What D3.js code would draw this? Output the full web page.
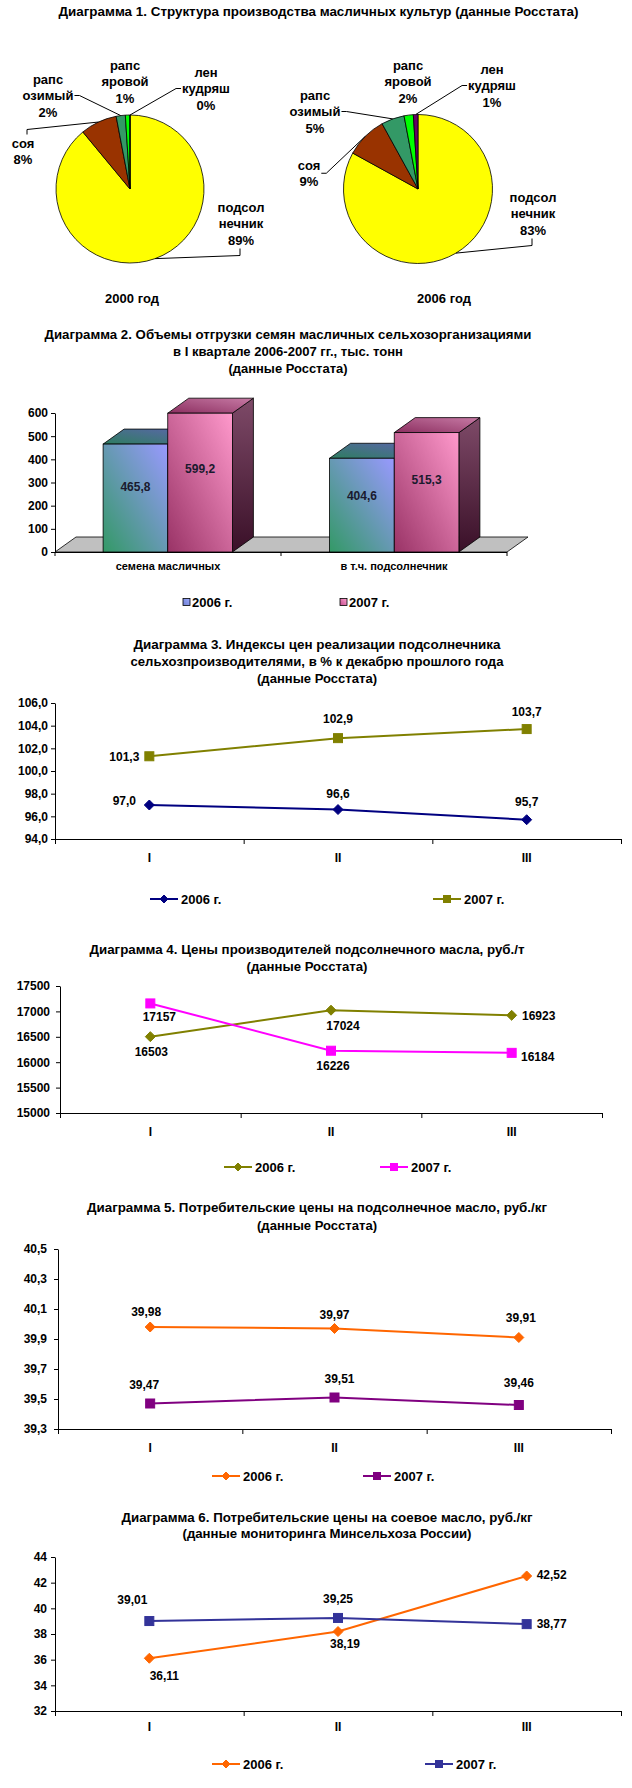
<!DOCTYPE html>
<html><head><meta charset="utf-8">
<script src="https://cdn.jsdelivr.net/npm/d3@7"></script>
<style>
body{margin:0;background:#fff}
svg{display:block}
text{font-family:"Liberation Sans",Arial,sans-serif;font-weight:bold;fill:#000}
</style>
</head><body>
<svg id="c" width="632" height="1788"></svg>
<script>
// ---------- DATA ----------
const titles = [
  ["Диаграмма 1. Структура производства масличных культур (данные Росстата)"],
  ["Диаграмма 2. Объемы отгрузки семян масличных сельхозорганизациями","в I квартале 2006-2007 гг., тыс. тонн","(данные Росстата)"],
  ["Диаграмма 3. Индексы цен реализации подсолнечника","сельхозпроизводителями, в % к декабрю прошлого года","(данные Росстата)"],
  ["Диаграмма 4. Цены производителей подсолнечного масла, руб./т","(данные Росстата)"],
  ["Диаграмма 5. Потребительские цены на подсолнечное масло, руб./кг","(данные Росстата)"],
  ["Диаграмма 6. Потребительские цены на соевое масло, руб./кг","(данные мониторинга Минсельхоза России)"]
];
const pieCategories = ["подсолнечник","соя","рапс озимый","рапс яровой","лен кудряш"];
const pieLabelLines = [["подсол","нечник"],["соя"],["рапс","озимый"],["рапс","яровой"],["лен","кудряш"]];
const pie2000 = [89, 8, 2, 1, 0];
const pie2006 = [83, 9, 5, 2, 1];
const pieYears = ["2000 год","2006 год"];

const seriesNames = ["2006 г.","2007 г."];
const barCategories = ["семена масличных","в т.ч. подсолнечник"];
const bar2006 = [465.8, 404.6];
const bar2007 = [599.2, 515.3];
const barTicks = [0,100,200,300,400,500,600];

const quarters = ["I","II","III"];
const c3_2006 = [97.0, 96.6, 95.7];
const c3_2007 = [101.3, 102.9, 103.7];
const c3Ticks = [94,96,98,100,102,104,106];
const c4_2006 = [16503, 17024, 16923];
const c4_2007 = [17157, 16226, 16184];
const c4Ticks = [15000,15500,16000,16500,17000,17500];
const c5_2006 = [39.98, 39.97, 39.91];
const c5_2007 = [39.47, 39.51, 39.46];
const c5Ticks = [39.3,39.5,39.7,39.9,40.1,40.3,40.5];
const c6_2006 = [36.11, 38.19, 42.52];
const c6_2007 = [39.01, 39.25, 38.77];
const c6Ticks = [32,34,36,38,40,42,44];

// ---------- STYLE / LAYOUT ----------
const pieColors = ["#FFFF00","#993300","#339966","#00FF00","#660066"];
const FONT = "Liberation Sans, Arial, sans-serif";
const titleLayout = [
  {cx:318.5, y:11, gap:17, w:[520]},
  {cx:288, y:334, gap:17, w:[487,230,119]},
  {cx:317, y:644, gap:17, w:[367,373,120]},
  {cx:307, y:949, gap:17, w:[435,121]},
  {cx:317, y:1207, gap:18, w:[460,120]},
  {cx:327, y:1517, gap:16.5, w:[411,289]}
];
const pieLayout = [
  {cx:130, cy:189, r:74, year:[2,109], labels:[[111,18,"b"],[-107,-46,"t"],[-82,-110,"r"],[-5,-124,null],[76,-117,"l"]]},
  {cx:418, cy:189, r:74.5, year:[26,109], labels:[[115,8,"b"],[-109,-24,"r"],[-103,-94,"r"],[-10,-124,null],[74,-120,"l"]]}
];

const svg = d3.select("#c");
svg.append("rect").attr("width",632).attr("height",1788).attr("fill","#fff");
const defs = svg.append("defs");
function grad(id, c0, c1, x1, y1, x2, y2){
  const g = defs.append("linearGradient").attr("id",id)
    .attr("x1",x1).attr("y1",y1).attr("x2",x2).attr("y2",y2);
  g.append("stop").attr("offset","0%").attr("stop-color",c0);
  g.append("stop").attr("offset","100%").attr("stop-color",c1);
}
grad("f06","#339966","#9999FF",0,1,1,0);
grad("f07","#993366","#FF99CC",0,1,1,0);
grad("t06","#2E7D60","#5B66AA",0,1,1,0);
grad("t07","#8C2F60","#C77AA5",0,1,1,0);
grad("s06","#3c4c80","#1c2850",0,0,0,1);
grad("s07","#7E4A68","#3A1028",0,0,0,1);
grad("l06","#6f7fd0","#9aa8ff",0,1,1,0);
grad("l07","#c04a8a","#ff9fd0",0,1,1,0);

// ---------- TITLES ----------
titles.forEach((lines, k) => {
  const lay = titleLayout[k];
  lines.forEach((t,i) => {
    svg.append("text").attr("x",lay.cx).attr("y",lay.y + i*lay.gap + 4.5)
      .attr("text-anchor","middle").attr("font-size",13)
      .attr("textLength",lay.w[i]).attr("lengthAdjust","spacingAndGlyphs")
      .text(t);
  });
});

// ---------- PIES ----------
function drawPie(values, lay, year){
  const arcs = d3.pie().sort(null).value(d=>d)(values);
  const arc = d3.arc().innerRadius(0).outerRadius(lay.r);
  const g = svg.append("g").attr("transform",`translate(${lay.cx},${lay.cy})`);
  g.selectAll("path.slice").data(arcs).join("path").attr("class","slice")
    .attr("d",arc).attr("fill",(d,i)=>pieColors[i])
    .attr("stroke","#000").attr("stroke-width",0.8);
  arcs.forEach((a,i) => {
    const [dx,dy,side] = lay.labels[i];
    const lines = pieLabelLines[i].concat([a.data + "%"]);
    const tg = g.append("g");
    lines.forEach((t,k) => {
      tg.append("text").attr("x",dx).attr("y",dy + k*16.5 + 4.5)
        .attr("text-anchor","middle").attr("font-size",13).text(t);
    });
    if(!side) return;
    const bb = tg.node().getBBox();
    const m = (a.startAngle + a.endAngle)/2;
    const pe = [lay.r*Math.sin(m), -lay.r*Math.cos(m)];
    let p0, p1;
    const cy = bb.y + bb.height/2;
    if(side==="r"){ p0=[bb.x+bb.width+1, cy]; p1=[p0[0]+5, cy]; }
    if(side==="l"){ p0=[bb.x-1, cy]; p1=[p0[0]-5, cy]; }
    if(side==="t"){ p0=[dx+4, bb.y-1]; p1=[p0[0], p0[1]-5]; }
    if(side==="b"){ p0=[dx-1, bb.y+bb.height+1]; p1=[p0[0], p0[1]+7]; }
    g.append("path").attr("d",d3.line()([p0,p1,pe]))
      .attr("fill","none").attr("stroke","#000").attr("stroke-width",1);
  });
  g.append("text").attr("x",lay.year[0]).attr("y",lay.year[1]+4.5)
    .attr("text-anchor","middle").attr("font-size",13).text(year);
}
drawPie(pie2000, pieLayout[0], pieYears[0]);
drawPie(pie2006, pieLayout[1], pieYears[1]);

// ---------- 3D BAR CHART ----------
(function(){
  const X0=55, X1=507, DX=21, DY=-15;
  const yB = d3.scaleLinear().domain([0,600]).range([552,413]);
  const xB = d3.scaleBand().domain(barCategories).range([X0,X1]).paddingInner(0.429).paddingOuter(0.2124);
  const xAx = d3.scaleBand().domain(barCategories).range([X0,X1]);
  const xS = d3.scaleBand().domain(seriesNames).range([0,xB.bandwidth()]);
  const y0 = yB(0);
  // floor
  svg.append("path").attr("d",d3.line()([[X0,y0],[X1,y0],[X1+DX,y0+DY],[X0+DX,y0+DY]])+"Z")
    .attr("fill","#C0C0C0").attr("stroke","#000").attr("stroke-width",0.8);
  // y axis
  const gy = svg.append("g").attr("transform",`translate(${X0},0)`)
    .call(d3.axisLeft(yB).tickValues(barTicks).tickSize(4).tickSizeOuter(0).tickPadding(3));
  gy.attr("font-family",FONT).attr("font-size",12).attr("font-weight","bold");
  // x axis
  svg.append("line").attr("x1",X0).attr("x2",X1).attr("y1",y0+0.5).attr("y2",y0+0.5).attr("stroke","#000");
  barCategories.concat([null]).forEach((c,i)=>{
    const xx = c ? xAx(c) : X1;
    svg.append("line").attr("x1",xx).attr("x2",xx).attr("y1",y0).attr("y2",y0+4).attr("stroke","#000");
  });
  barCategories.forEach(c=>{
    svg.append("text").attr("x",xAx(c)+xAx.bandwidth()/2).attr("y",566+4).attr("text-anchor","middle")
      .attr("font-size",11).text(c);
  });
  const vals = [bar2006, bar2007];
  const fills = [["f06","t06","s06"],["f07","t07","s07"]];
  barCategories.forEach((c,ci)=>{
    seriesNames.forEach((s,si)=>{
      const v = vals[si][ci];
      const x = xB(c)+xS(s), w = xS.bandwidth(), yt = yB(v);
      const g = svg.append("g");
      g.append("path").attr("d",d3.line()([[x+w,yt],[x+w+DX,yt+DY],[x+w+DX,y0+DY],[x+w,y0]])+"Z")
        .attr("fill",`url(#${fills[si][2]})`).attr("stroke","#000").attr("stroke-width",0.8);
      g.append("path").attr("d",d3.line()([[x,yt],[x+DX,yt+DY],[x+w+DX,yt+DY],[x+w,yt]])+"Z")
        .attr("fill",`url(#${fills[si][1]})`).attr("stroke","#000").attr("stroke-width",0.8);
      g.append("rect").attr("x",x).attr("y",yt).attr("width",w).attr("height",y0-yt)
        .attr("fill",`url(#${fills[si][0]})`).attr("stroke","#000").attr("stroke-width",0.8);
    });
  });
  barCategories.forEach((c,ci)=>{
    seriesNames.forEach((s,si)=>{
      const v = vals[si][ci];
      const x = xB(c)+xS(s), w = xS.bandwidth(), yt = yB(v);
      svg.append("text").attr("x",x+w/2).attr("y",yt+0.4*(y0-yt)+4).attr("text-anchor","middle")
        .attr("font-size",12).style("fill","#1a1a2e").text(String(v).replace(".",","));
    });
  });
  // legend
  const legX = [183, 340];
  seriesNames.forEach((s,si)=>{
    svg.append("rect").attr("x",legX[si]).attr("y",598.5).attr("width",7).attr("height",7)
      .attr("fill",`url(#l0${si?7:6})`).attr("stroke","#000").attr("stroke-width",0.8);
    svg.append("text").attr("x",legX[si]+9).attr("y",602+4.5).attr("font-size",13).text(s);
  });
})();

// ---------- LINE CHARTS ----------
function marker(g, type, color, size){
  if(type==="diamond"){
    g.append("path").attr("d",`M0,${-size}L${size},0L0,${size}L${-size},0Z`).attr("fill",color).attr("stroke",color);
  } else {
    g.append("rect").attr("x",-size).attr("y",-size).attr("width",2*size).attr("height",2*size).attr("fill",color).attr("stroke",color);
  }
}
function drawLine(cfg){
  const x = d3.scaleBand().domain(quarters).range(cfg.xr);
  const y = d3.scaleLinear().domain([cfg.ticks[0], cfg.ticks[cfg.ticks.length-1]]).range([cfg.yb, cfg.yt]);
  const gy = svg.append("g").attr("transform",`translate(${cfg.xr[0]},0)`)
    .call(d3.axisLeft(y).tickValues(cfg.ticks).tickSize(4).tickSizeOuter(0).tickPadding(cfg.pad).tickFormat(cfg.tfmt));
  gy.attr("font-family",FONT).attr("font-size",12).attr("font-weight","bold");
  const gx = svg.append("g").attr("transform",`translate(0,${cfg.yb})`)
    .call(d3.axisBottom(x).tickSize(0).tickSizeOuter(0).tickFormat(""));
  quarters.concat([null]).forEach(q=>{
    const xx = q ? x(q) : cfg.xr[1];
    svg.append("line").attr("x1",xx+0.5).attr("x2",xx+0.5).attr("y1",cfg.yb).attr("y2",cfg.yb+5).attr("stroke","#000");
  });
  quarters.forEach(q=>{
    svg.append("text").attr("x",x(q)+x.bandwidth()/2).attr("y",cfg.xly+4).attr("text-anchor","middle")
      .attr("font-size",12).text(q);
  });
  const cx = i => x(quarters[i]) + x.bandwidth()/2;
  cfg.series.forEach((s,si)=>{
    svg.append("path").attr("d",d3.line().x((d,i)=>cx(i)).y(d=>y(d))(s.values))
      .attr("fill","none").attr("stroke",s.color).attr("stroke-width",2);
    s.values.forEach((v,i)=>{
      const g = svg.append("g").attr("transform",`translate(${cx(i)},${y(v)})`);
      marker(g, s.marker, s.color, s.marker==="diamond"?5:4.5);
      svg.append("text").attr("x",cx(i)+s.off[i][0]).attr("y",y(v)+s.off[i][1]+4)
        .attr("text-anchor","middle").attr("font-size",12).text(cfg.lfmt(v));
    });
    const lx = cfg.legX[si];
    svg.append("line").attr("x1",lx).attr("x2",lx+28).attr("y1",cfg.legY).attr("y2",cfg.legY)
      .attr("stroke",s.color).attr("stroke-width",2);
    const lg = svg.append("g").attr("transform",`translate(${lx+14},${cfg.legY})`);
    marker(lg, s.marker, s.color, s.marker==="diamond"?4:3.5);
    svg.append("text").attr("x",lx+31).attr("y",cfg.legY+4.5).attr("font-size",13).text(seriesNames[si]);
  });
}
const comma = (d,n) => d.toFixed(n).replace(".",",");

drawLine({xr:[55,621], yt:703, yb:839, ticks:c3Ticks, pad:3, tfmt:d=>comma(d,1), lfmt:d=>comma(d,1), xly:858,
  legX:[150,433], legY:899,
  series:[
    {values:c3_2006, color:"#000080", marker:"diamond", off:[[-25,-4],[0,-16],[0,-18]]},
    {values:c3_2007, color:"#808000", marker:"square", off:[[-25,1],[0,-19],[0,-17]]}
  ]});
drawLine({xr:[60,602], yt:986, yb:1113, ticks:c4Ticks, pad:6, tfmt:d=>String(d), lfmt:d=>String(d), xly:1132,
  legX:[224,380], legY:1167,
  series:[
    {values:c4_2006, color:"#808000", marker:"diamond", off:[[1,15],[12,16],[27,1]]},
    {values:c4_2007, color:"#FF00FF", marker:"square", off:[[9,14],[2,15],[26,4]]}
  ]});
drawLine({xr:[58,611], yt:1249, yb:1429, ticks:c5Ticks, pad:7, tfmt:d=>comma(d,1), lfmt:d=>comma(d,2), xly:1448,
  legX:[212,363], legY:1476,
  series:[
    {values:c5_2006, color:"#FF6600", marker:"diamond", off:[[-4,-15],[0,-14],[2,-20]]},
    {values:c5_2007, color:"#800080", marker:"square", off:[[-6,-19],[5,-19],[0,-22]]}
  ]});
drawLine({xr:[55,621], yt:1557, yb:1711, ticks:c6Ticks, pad:4, tfmt:d=>String(d), lfmt:d=>comma(d,2), xly:1727,
  legX:[212,425], legY:1764,
  series:[
    {values:c6_2006, color:"#FF6600", marker:"diamond", off:[[15,18],[7,12],[25,-1]]},
    {values:c6_2007, color:"#333399", marker:"square", off:[[-17,-21],[0,-19],[25,0]]}
  ]});
</script>
</body></html>
